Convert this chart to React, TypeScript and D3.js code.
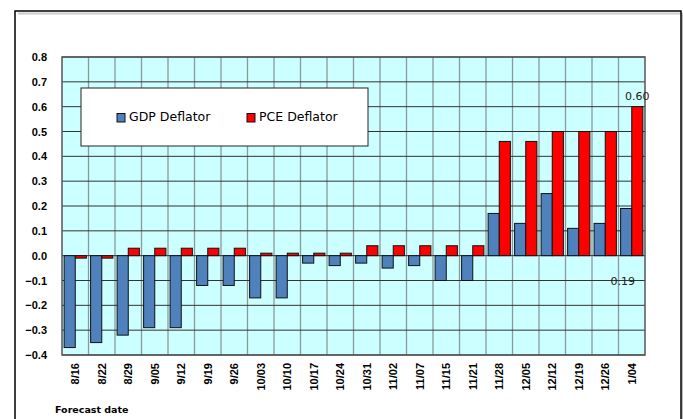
import React from 'react';
import * as d3 from 'd3';

const dates = ['8/16', '8/22', '8/29', '9/05', '9/12', '9/19', '9/26', '10/03', '10/10', '10/17', '10/24',
  '10/31', '11/02', '11/07', '11/15', '11/21', '11/28', '12/05', '12/12', '12/19', '12/26', '1/04'];
const gdpDeflator = [-0.37, -0.35, -0.32, -0.29, -0.29, -0.12, -0.12, -0.17, -0.17, -0.03, -0.04,
  -0.03, -0.05, -0.04, -0.1, -0.1, 0.17, 0.13, 0.25, 0.11, 0.13, 0.19];
const pceDeflator = [-0.01, -0.01, 0.03, 0.03, 0.03, 0.03, 0.03, 0.01, 0.01, 0.01, 0.01,
  0.04, 0.04, 0.04, 0.04, 0.04, 0.46, 0.46, 0.5, 0.5, 0.5, 0.6];
const yTicks = [0.8, 0.7, 0.6, 0.5, 0.4, 0.3, 0.2, 0.1, 0, -0.1, -0.2, -0.3, -0.4];

const W = 683, H = 419;
const plot = { left: 62, right: 645, top: 57, bottom: 355 };

const App: React.FC = () => {
  const x = d3.scaleBand().domain(dates).range([plot.left, plot.right]);
  const y = d3.scaleLinear().domain([-0.4, 0.8]).range([plot.bottom, plot.top]);
  const bw = x.bandwidth();
  const barW = bw * 0.42;
  const pad = (bw - 2 * barW) / 2;
  const y0 = y(0);
  const fmt = d3.format('.1f');

  const bar = (v: number, x0: number, fill: string, key: string) => (
    <rect key={key} x={x0} y={Math.min(y(v), y0)} width={barW} height={Math.abs(y(v) - y0)}
      fill={fill} stroke="#111" strokeWidth={1} />
  );

  const last = dates.length - 1;
  const lastX = x(dates[last]) as number;

  return (
    <svg width={W} height={H} style={{ position: 'absolute', left: 0, top: 0 }}>
      <rect width={W} height={H} fill="#fff" />
      {/* outer frame with shadow */}
      <path d={`M683,14 L683,419`} stroke="#bbb" strokeWidth={3} />
      <path d={`M18,13.5 L683,13.5`} stroke="#ccc" strokeWidth={2} />
      <rect x={15} y={11} width={666} height={420} fill="none" stroke="#000" strokeWidth={1.5} />

      <rect x={plot.left} y={plot.top} width={plot.right - plot.left} height={plot.bottom - plot.top} fill="#CCFFFF" />
      {dates.map((d, i) => i > 0 && (
        <line key={'v' + d} x1={x(d)} x2={x(d)} y1={plot.top} y2={plot.bottom} stroke="#8a9a9a" strokeWidth={1.3} />
      ))}
      {yTicks.map(t => (
        <line key={'h' + t} x1={plot.left} x2={plot.right} y1={y(t)} y2={y(t)} stroke="#333" strokeWidth={1} />
      ))}

      {dates.map((d, i) => (
        <g key={d}>
          {bar(gdpDeflator[i], (x(d) as number) + pad, '#4F81BD', 'g' + d)}
          {bar(pceDeflator[i], (x(d) as number) + pad + barW, '#FF0000', 'p' + d)}
        </g>
      ))}
      <rect x={plot.left} y={plot.top} width={plot.right - plot.left} height={plot.bottom - plot.top}
        fill="none" stroke="#555" strokeWidth={1.5} />

      {yTicks.map(t => (
        <text key={'t' + t} x={47} y={y(t) + 4} textAnchor="end" fontFamily="Liberation Sans, Arial, sans-serif"
          fontWeight="bold" fontSize={11} fill="#000">{fmt(t)}</text>
      ))}
      {dates.map(d => (
        <text key={'x' + d} transform={`translate(${(x(d) as number) + bw / 2 + 4},${363}) rotate(-90)`}
          textAnchor="end" fontFamily="Liberation Sans, Arial, sans-serif" fontWeight="bold" fontSize={11} fill="#000">{d}</text>
      ))}
      <text x={55} y={413} fontFamily="Verdana, DejaVu Sans, sans-serif" fontWeight="bold" fontSize={9.5} fill="#000">Forecast date</text>

      <text x={lastX + pad + barW * 1.5} y={y(pceDeflator[last]) - 7} textAnchor="middle"
        fontFamily="DejaVu Sans, Verdana, sans-serif" fontSize={11} fill="#222">{pceDeflator[last].toFixed(2)}</text>
      <text x={lastX + bw / 2 - 9} y={y(-0.1) + 4} textAnchor="middle"
        fontFamily="DejaVu Sans, Verdana, sans-serif" fontSize={11} fill="#222">{gdpDeflator[last].toFixed(2)}</text>

      {/* legend */}
      <rect x={81} y={88} width={287} height={58} fill="#fff" stroke="#222" strokeWidth={1} />
      <rect x={117} y={113.5} width={8} height={8.5} fill="#4F81BD" stroke="#111" strokeWidth={1} />
      <text x={129} y={121} fontFamily="DejaVu Sans, Verdana, sans-serif" fontSize={12.5} fill="#000">GDP Deflator</text>
      <rect x={247} y={113.5} width={8} height={8.5} fill="#FF0000" stroke="#111" strokeWidth={1} />
      <text x={259} y={121} fontFamily="DejaVu Sans, Verdana, sans-serif" fontSize={12.5} fill="#000">PCE Deflator</text>
    </svg>
  );
};

export default App;
